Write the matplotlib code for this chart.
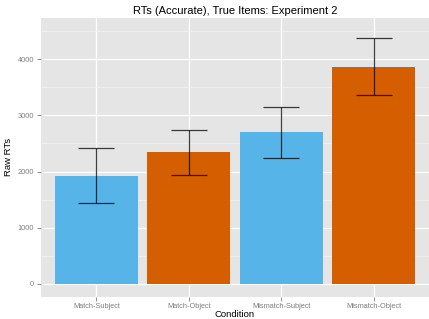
import matplotlib

matplotlib.use("Agg")
import matplotlib.pyplot as plt
from matplotlib.ticker import MultipleLocator

plt.rcParams["font.family"] = ["Liberation Sans", "DejaVu Sans"]

# --- data ---
conditions = ["Match-Subject", "Match-Object", "Mismatch-Subject", "Mismatch-Object"]
mean_rt = [1925, 2340, 2696, 3867]
err_rt = [490, 395, 459, 505]
bar_colors = ["#56B4E9", "#D55E00", "#56B4E9", "#D55E00"]

fig = plt.figure(figsize=(4.29, 3.19), dpi=100)
ax = fig.add_axes([41 / 429, (319 - 296.7) / 319, 1 - 41 / 429, (296.7 - 18) / 319])
ax.set_facecolor("#E5E5E5")

x = list(range(1, len(conditions) + 1))
ax.bar(x, mean_rt, width=0.9, color=bar_colors, zorder=2)
ax.errorbar(x, mean_rt, yerr=err_rt, fmt="none", ecolor="black", elinewidth=0.9,
            capsize=13, capthick=0.9, alpha=0.75, zorder=3)

ax.set_xlim(0.4, 4.6)
ax.set_ylim(-226, 4733)
ax.set_xticks(x)
ax.set_xticklabels(conditions)
ax.yaxis.set_major_locator(MultipleLocator(1000))
ax.yaxis.set_minor_locator(MultipleLocator(500))

ax.grid(which="major", color="white", lw=0.9, zorder=0)
ax.grid(which="minor", axis="y", color="#F2F2F2", lw=0.5, zorder=0)
ax.set_axisbelow(True)
for s in ax.spines.values():
    s.set_visible(False)

ax.tick_params(axis="both", which="major", length=3, width=0.6, color="#7F7F7F",
               labelsize=5.3, labelcolor="#7F7F7F", pad=2)
ax.tick_params(axis="x", pad=1.5)
ax.tick_params(axis="y", which="minor", length=0)

ax.set_title("RTs (Accurate), True Items: Experiment 2", fontsize=8, pad=3)
ax.set_xlabel("Condition", fontsize=6.8, labelpad=0)
ax.set_ylabel("Raw RTs", fontsize=6.8, labelpad=3)

fig.savefig("out.png", dpi=100)
